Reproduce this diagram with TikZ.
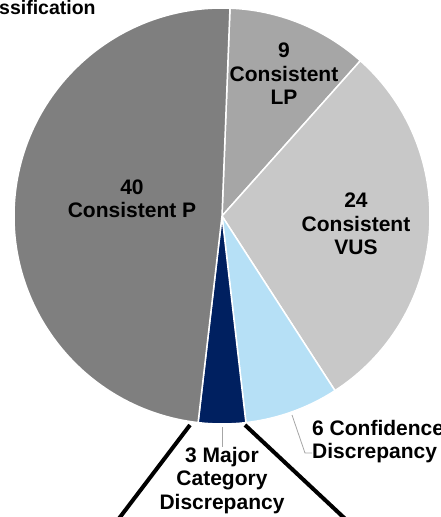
\documentclass[tikz,border=0pt]{standalone}
\usepackage{fontspec}
\setmainfont{Liberation Sans}
\begin{document}
\begin{tikzpicture}[x=1pt,y=1pt,
  slice/.style={draw=white,line width=1.5pt,line join=round},
  lbl/.style={font=\bfseries\fontsize{21}{23.5}\selectfont,align=center,inner sep=0pt,text=black},
  leader/.style={draw=gray!70,line width=0.8pt},
  zoomline/.style={draw=black,line width=4pt}]
\useasboundingbox (0,0) rectangle (440,-517);
\coordinate (c) at (222,-216);
\def\R{208}
\definecolor{cP}{HTML}{7F7F7F}
\definecolor{cLP}{HTML}{A6A6A6}
\definecolor{cVUS}{HTML}{C8C8C8}
\definecolor{cConf}{HTML}{B6E0F6}
\definecolor{cMaj}{HTML}{002060}
% slices (clockwise from top)
\fill[cLP,slice] (c) -- ++(87.8:\R) arc[start angle=87.8,end angle=48.3,radius=\R] -- cycle;
\fill[cVUS,slice] (c) -- ++(48.3:\R) arc[start angle=48.3,end angle=-57.1,radius=\R] -- cycle;
\fill[cConf,slice] (c) -- ++(-57.1:\R) arc[start angle=-57.1,end angle=-83.4,radius=\R] -- cycle;
\fill[cMaj,slice] (c) -- ++(-83.4:\R) arc[start angle=-83.4,end angle=-96.6,radius=\R] -- cycle;
\fill[cP,slice] (c) -- ++(-96.6:\R) arc[start angle=-96.6,end angle=-272.2,radius=\R] -- cycle;
% title fragment
\node[font=\bfseries\fontsize{19.5}{22}\selectfont,anchor=base west,inner sep=0pt] (title) at (-1,-14) {ssification};
% labels
\node[lbl] (lP) at (132,-199) {40\\Consistent P};
\node[lbl] (lLP) at (284,-74) {9\\Consistent\\LP};
\node[lbl] (lVUS) at (356,-224) {24\\Consistent\\VUS};
\node[lbl,align=left,anchor=west] (lConf) at (312,-441.5) {6 Confidence\\Discrepancy};
\node[lbl] (lMaj) at (222,-480.5) {3 Major\\Category\\Discrepancy};
% leader lines
\coordinate (mj) at (222,-427);
\draw[leader] (mj) -- (lMaj.north);
\coordinate (cf1) at (292,-415);
\coordinate (cf2) at (305,-453);
\draw[leader] (cf1) -- (cf2) -- (cf2 -| lConf.west);
% zoom lines to secondary chart
\coordinate (zl1) at (190,-425);
\coordinate (zl2) at (111,-529);
\coordinate (zr1) at (245,-425);
\coordinate (zr2) at (356,-529);
\draw[zoomline] (zl1) -- (zl2);
\draw[zoomline] (zr1) -- (zr2);
\end{tikzpicture}
\end{document}
